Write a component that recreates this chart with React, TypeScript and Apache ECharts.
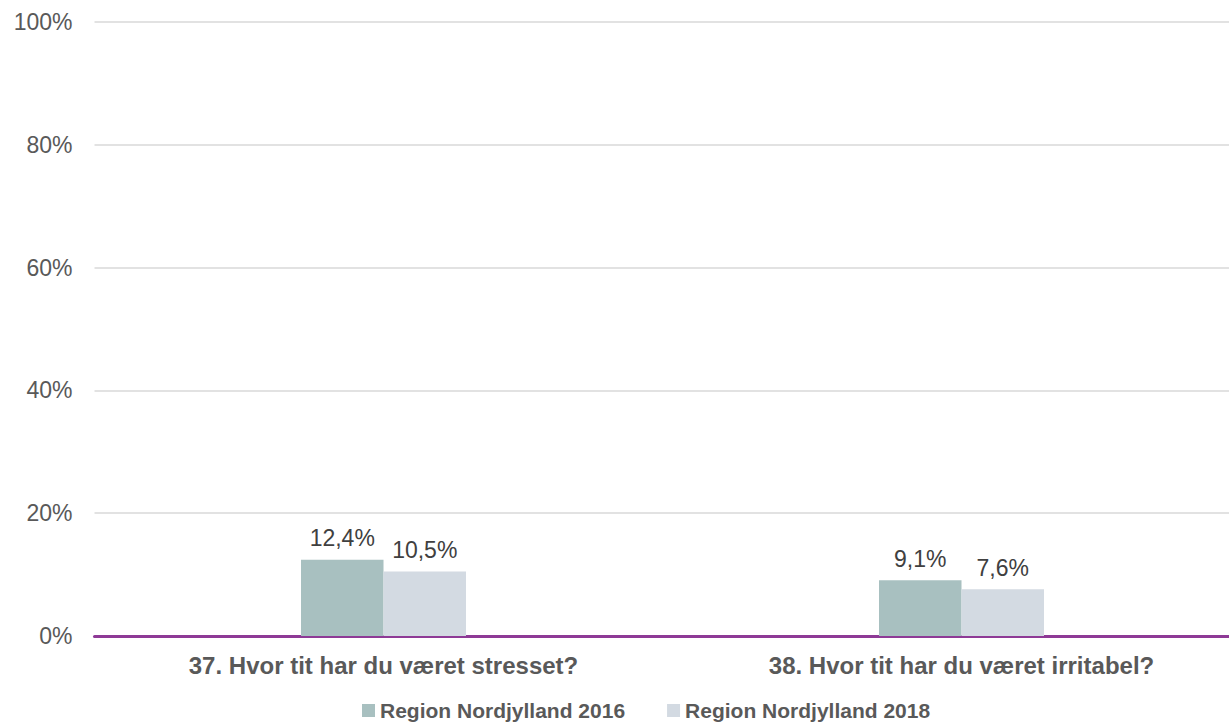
import React, { useEffect, useRef } from "react";
import * as echarts from "echarts";

const categories = ["37. Hvor tit har du været stresset?", "38. Hvor tit har du været irritabel?"];
const seriesNames = ["Region Nordjylland 2016", "Region Nordjylland 2018"];
const values2016 = [12.4, 9.1];
const values2018 = [10.5, 7.6];
const yTicks = [0, 20, 40, 60, 80, 100];

const fmt = (v: number) => v.toFixed(1).replace(".", ",") + "%";

export default function App() {
  const ref = useRef<HTMLDivElement>(null);
  useEffect(() => {
    document.body.style.margin = "0";
    document.body.style.overflow = "hidden";
    document.documentElement.style.overflow = "hidden";
    const chart = echarts.init(ref.current!, null, { renderer: "svg" });
    const font = "'Liberation Sans', Arial, sans-serif";
    const labelCfg = {
      show: true,
      position: "top",
      distance: 10,
      fontFamily: font,
      fontSize: 23,
      color: "#404040",
      formatter: (p: any) => fmt(p.value),
    };
    chart.setOption({
      animation: false,
      textStyle: { fontFamily: font },
      grid: { left: 94.5, top: 22, width: 1156, height: 614, containLabel: false },
      legend: {
        top: 695,
        left: 357,
        itemWidth: 13,
        itemHeight: 13,
        itemGap: 42,
        icon: "rect",
        textStyle: { fontFamily: font, fontSize: 21, fontWeight: "bold", color: "#595959" },
        data: seriesNames,
      },
      xAxis: {
        type: "category",
        data: categories,
        axisLine: { lineStyle: { color: "#8E3A96", width: 3 } },
        axisTick: { show: false },
        axisLabel: {
          fontFamily: font,
          fontSize: 24,
          fontWeight: "bold",
          color: "#595959",
          margin: 17,
        },
      },
      yAxis: {
        type: "value",
        min: 0,
        max: 100,
        interval: 20,
        axisLine: { show: false },
        axisTick: { show: false },
        splitLine: { lineStyle: { color: "#D9D9D9", width: 1.5 } },
        axisLabel: {
          fontFamily: font,
          fontSize: 23,
          color: "#595959",
          margin: 22,
          formatter: (v: number) => (yTicks.includes(v) ? v + "%" : ""),
        },
      },
      series: [
        {
          name: seriesNames[0],
          type: "bar",
          data: values2016,
          barWidth: 82.5,
          barGap: "0%",
          itemStyle: { color: "#A8C0C0" },
          label: labelCfg,
        },
        {
          name: seriesNames[1],
          type: "bar",
          data: values2018,
          barWidth: 82.5,
          barGap: "0%",
          itemStyle: { color: "#D3DAE2" },
          label: labelCfg,
        },
      ],
    });
    return () => chart.dispose();
  }, []);
  return <div ref={ref} style={{ position: "absolute", left: 0, top: 0, width: 1251, height: 726 }} />;
}
